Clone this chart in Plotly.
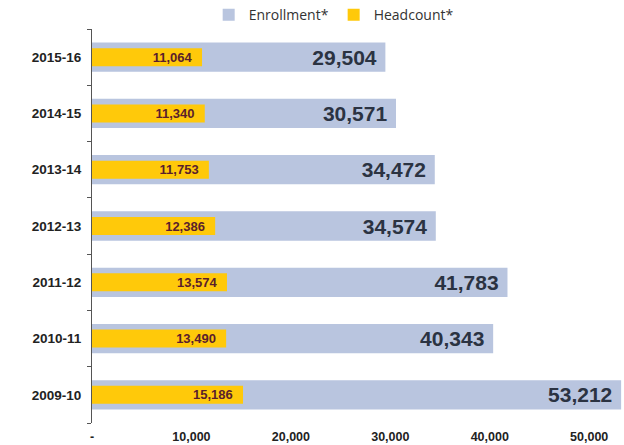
import plotly.graph_objects as go

years = ['2009-10', '2010-11', '2011-12', '2012-13', '2013-14', '2014-15', '2015-16']
enrollment = [53212, 40343, 41783, 34574, 34472, 30571, 29504]
headcount = [15186, 13490, 13574, 12386, 11753, 11340, 11064]

tick_vals = [0, 10000, 20000, 30000, 40000, 50000]
tick_text = ['-', '10,000', '20,000', '30,000', '40,000', '50,000']

nb = '\u00a0'

data = [
    go.Bar(y=years, x=enrollment, orientation='h', name='Enrollment*',
           width=0.52,
           marker=dict(color='#b9c5df', line=dict(width=0)),
           text=[f'{v:,}' + nb for v in enrollment],
           textposition='inside', insidetextanchor='end', constraintext='none',
           textfont=dict(family='Liberation Sans', size=21, color='#2b3342', weight='bold')),
    go.Bar(y=years, x=headcount, orientation='h', name='Headcount*',
           width=0.32,
           marker=dict(color='#ffc90a', line=dict(width=0)),
           text=[f'{v:,}' + nb * 2 for v in headcount],
           textposition='inside', insidetextanchor='end', constraintext='none',
           textfont=dict(family='Liberation Sans', size=13, color='#5a1e2c', weight='bold')),
]

layout = go.Layout(
    width=624, height=445,
    margin=dict(l=92, r=2, t=29, b=22, autoexpand=False),
    barmode='overlay',
    plot_bgcolor='white', paper_bgcolor='white',
    font=dict(family='Liberation Sans', color='#222'),
    xaxis=dict(range=[0, 53300], tickvals=tick_vals, ticktext=tick_text,
               showgrid=False, zeroline=False, showline=False, automargin=False,
               ticklabelstandoff=4,
               tickfont=dict(size=12.5, color='#222', weight='bold')),
    yaxis=dict(type='category', categoryorder='array', categoryarray=years,
               showgrid=False, zeroline=False, showline=True, automargin=False,
               linecolor='#555', linewidth=1,
               ticks='outside', tickson='boundaries', ticklen=4, tickcolor='#555',
               ticklabelstandoff=7,
               tickfont=dict(size=13.5, color='#222', weight='bold')),
    legend=dict(orientation='h', x=0.456, xanchor='center',
                yref='container', y=0.966, yanchor='middle',
                font=dict(family='Open Sans', size=14, color='#333'),
                bgcolor='rgba(0,0,0,0)'),
    showlegend=True,
)

fig = go.Figure(data=data, layout=layout)
fig.write_html('out.html', config={'displayModeBar': False},
               post_script="document.body.style.margin='0';")
